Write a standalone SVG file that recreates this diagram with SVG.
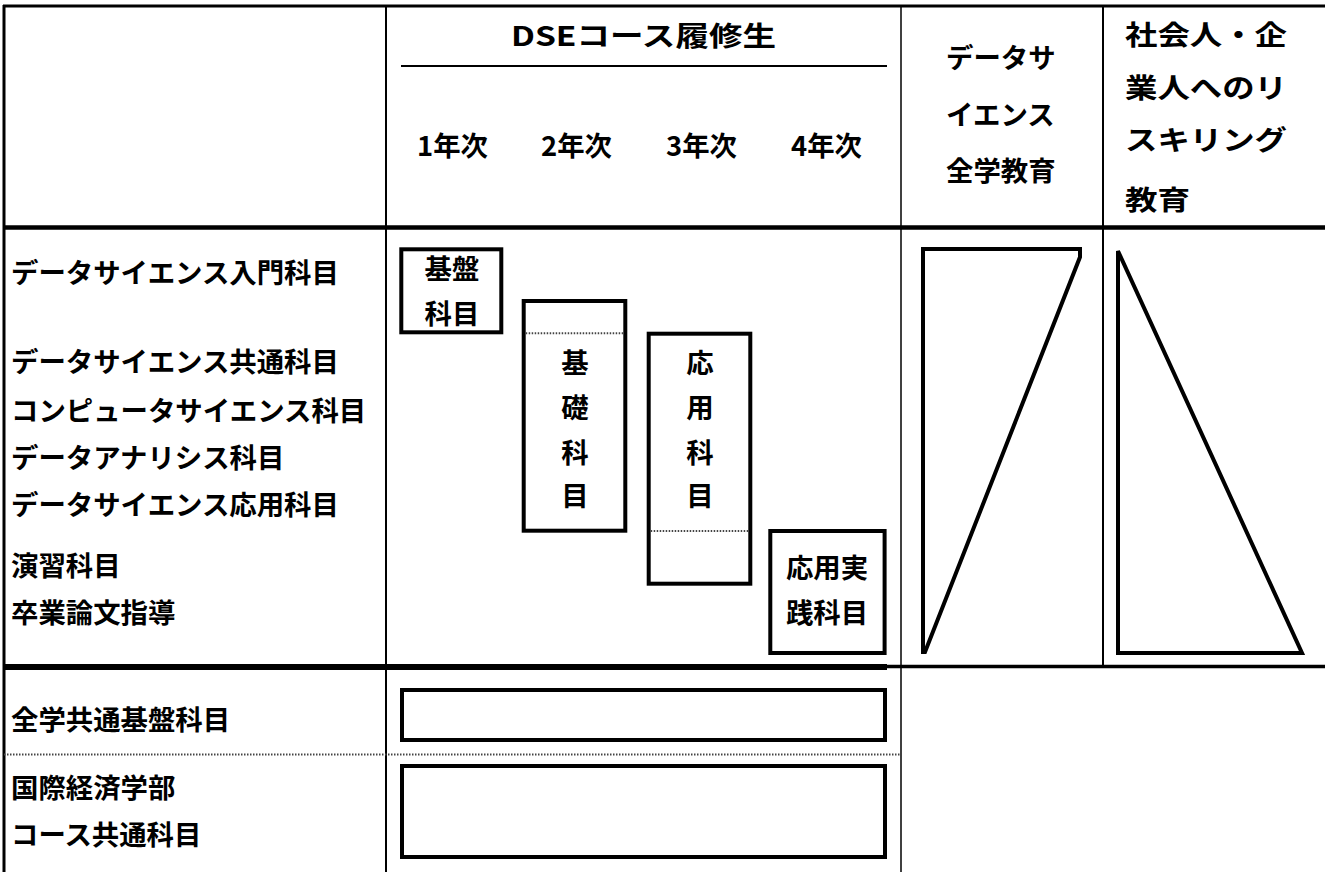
<svg xmlns="http://www.w3.org/2000/svg" width="1325" height="872" viewBox="0 0 1325 872">
<style>
text{font-family:"Noto Sans CJK JP","Noto Sans",sans-serif;font-weight:700;font-size:27.4px;fill:#000}
.mid{text-anchor:middle}
.box{fill:none;stroke:#000;stroke-width:4}
.tri{fill:none;stroke:#000;stroke-width:4;stroke-linejoin:miter}
.dot{stroke:#444;stroke-width:2;stroke-dasharray:1.5 1.5;fill:none}
.g{stroke:#000;fill:none}
</style>
<rect width="1325" height="872" fill="#fff"/>
<g id="grid">
<line class="g" x1="3" y1="6" x2="1325" y2="6" stroke-width="3"/>
<line class="g" x1="4" y1="5" x2="4" y2="872" stroke-width="3"/>
<line class="g" x1="386" y1="6" x2="386" y2="872" stroke-width="2"/>
<line class="g" x1="901" y1="6" x2="901" y2="872" stroke-width="1.5"/>
<line class="g" x1="1103" y1="6" x2="1103" y2="667" stroke-width="2"/>
<line class="g" x1="3" y1="227.5" x2="1325" y2="227.5" stroke-width="4.5"/>
<line class="g" x1="401" y1="66" x2="887" y2="66" stroke-width="2"/>
<line class="g" x1="3" y1="667" x2="887" y2="667" stroke-width="6"/>
<line class="g" x1="887" y1="666.5" x2="1325" y2="666.5" stroke-width="3.5"/>
<line class="dot" x1="4" y1="754.5" x2="901" y2="754.5"/>
</g>
<g id="header">
<text x="511" y="46" font-size="29" textLength="265" lengthAdjust="spacingAndGlyphs">DSEコース履修生</text>
<text x="417" y="156">1年次</text>
<text x="541" y="156">2年次</text>
<text x="666" y="156">3年次</text>
<text x="791" y="156">4年次</text>
<text x="946" y="68">データサ</text>
<text x="946" y="125">イエンス</text>
<text x="946" y="181">全学教育</text>
<text x="1125" y="45" font-size="28" textLength="162" lengthAdjust="spacingAndGlyphs">社会人・企</text>
<text x="1125" y="98" font-size="28" textLength="162" lengthAdjust="spacingAndGlyphs">業人へのリ</text>
<text x="1125" y="150" font-size="28" textLength="162" lengthAdjust="spacingAndGlyphs">スキリング</text>
<text x="1125" y="210" font-size="28" textLength="65" lengthAdjust="spacingAndGlyphs">教育</text>
</g>
<g id="row-labels">
<text x="11" y="283">データサイエンス入門科目</text>
<text x="11" y="372">データサイエンス共通科目</text>
<text x="11" y="421">コンピュータサイエンス科目</text>
<text x="11" y="468">データアナリシス科目</text>
<text x="11" y="515">データサイエンス応用科目</text>
<text x="11" y="576">演習科目</text>
<text x="11" y="623">卒業論文指導</text>
<text x="11" y="730">全学共通基盤科目</text>
<text x="11" y="798">国際経済学部</text>
<text x="11" y="845">コース共通科目</text>
</g>
<g id="kiban">
<rect class="box" x="401.3" y="249.3" width="100" height="83"/>
<text x="452" y="279" class="mid">基盤</text>
<text x="452" y="324" class="mid">科目</text>
</g>
<g id="kiso">
<rect class="box" x="523.7" y="301" width="101.6" height="229.7"/>
<line class="dot" x1="525.7" y1="333.3" x2="623.3" y2="333.3"/>
<text x="575" y="373" class="mid">基</text>
<text x="575" y="418" class="mid">礎</text>
<text x="575" y="463" class="mid">科</text>
<text x="575" y="506" class="mid">目</text>
</g>
<g id="ouyou">
<rect class="box" x="648.7" y="333.7" width="101.6" height="250"/>
<line class="dot" x1="650.7" y1="531" x2="748.3" y2="531"/>
<text x="700" y="373" class="mid">応</text>
<text x="700" y="418" class="mid">用</text>
<text x="700" y="463" class="mid">科</text>
<text x="700" y="506" class="mid">目</text>
</g>
<g id="jissen">
<rect class="box" x="770.3" y="531" width="114.3" height="122"/>
<text x="827" y="578" class="mid">応用実</text>
<text x="827" y="623" class="mid">践科目</text>
</g>
<g id="zengaku-box">
<rect class="box" x="402" y="690" width="483" height="50"/>
</g>
<g id="course-box">
<rect class="box" x="402" y="766" width="483" height="91"/>
</g>
<g id="ds-all">
<polygon class="tri" points="923,249 1080,249 1080,257 925,652 923,652"/>
</g>
<g id="reskilling">
<polygon class="tri" points="1118,251 1302,653 1118,653"/>
</g>
<g id="connectors"/>
</svg>
